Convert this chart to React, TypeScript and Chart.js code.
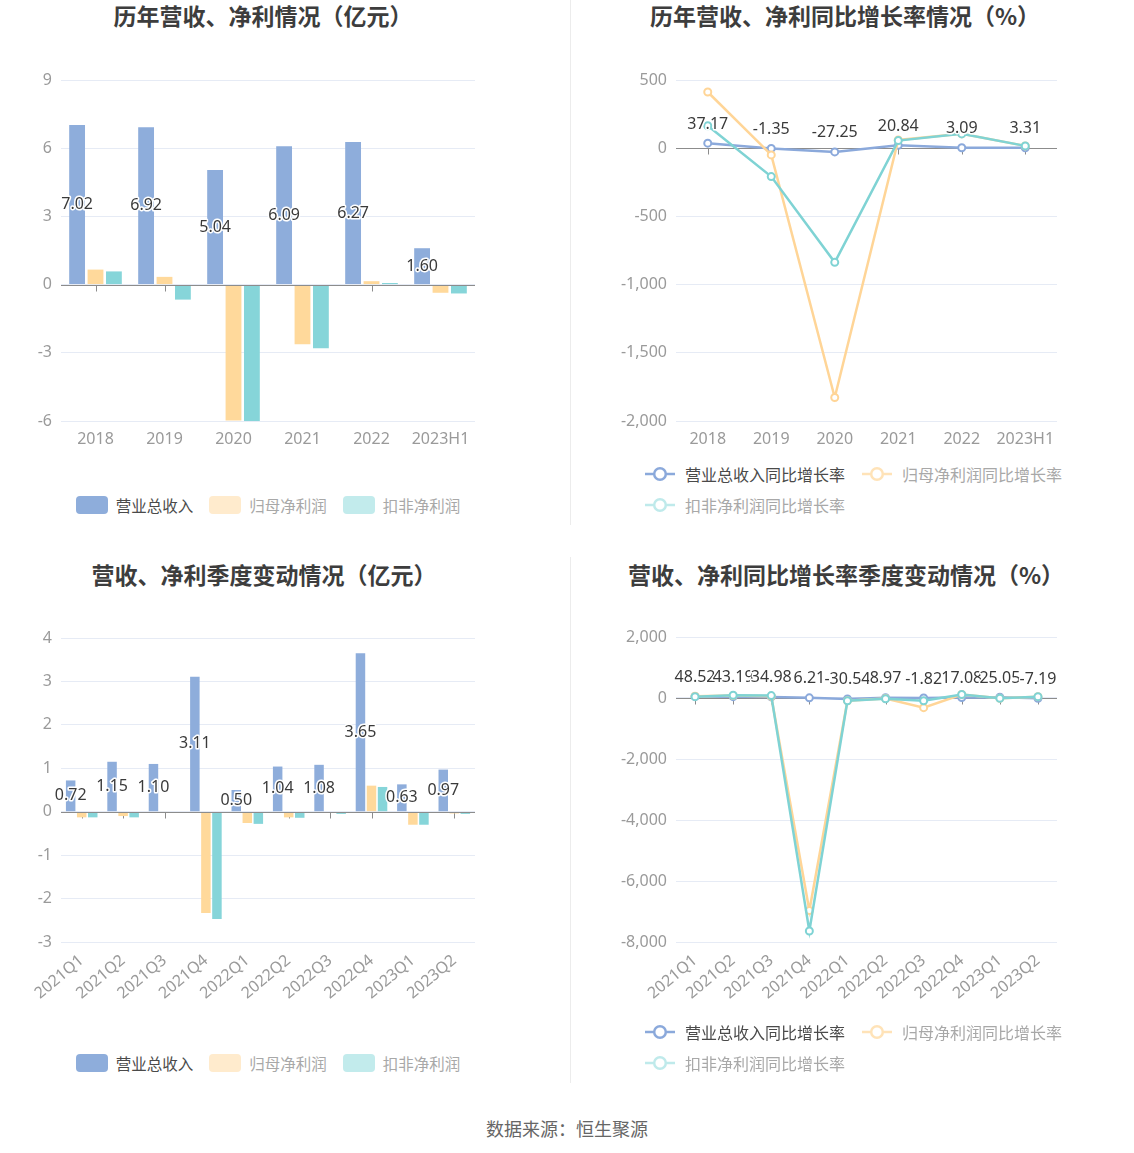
import React, { useEffect, useRef } from 'react';
import { Chart, registerables } from 'chart.js';

Chart.register(...registerables);

const NUM_FONT = '"Noto Sans", "Noto Sans CJK SC", sans-serif';
const CJK_FONT = '"Noto Sans CJK SC", "Noto Sans", sans-serif';

// ---------- data ----------
const years = ['2018', '2019', '2020', '2021', '2022', '2023H1'];
const yearRevenue = [7.02, 6.92, 5.04, 6.09, 6.27, 1.6];
const yearNetProfit = [0.66, 0.34, -5.98, -2.62, 0.15, -0.36];
const yearDeductedProfit = [0.58, -0.66, -6.0, -2.8, 0.07, -0.39];

const yearRevenueGrowth = [37.17, -1.35, -27.25, 20.84, 3.09, 3.31];
const yearNetProfitGrowth = [412, -49, -1828, 60, 106, 17];
const yearDeductedGrowth = [165, -208, -837, 56, 105, 17];

const quarters = ['2021Q1', '2021Q2', '2021Q3', '2021Q4', '2022Q1', '2022Q2', '2022Q3', '2022Q4', '2023Q1', '2023Q2'];
const qRevenue = [0.72, 1.15, 1.1, 3.11, 0.5, 1.04, 1.08, 3.65, 0.63, 0.97];
const qNetProfit = [-0.13, -0.1, 0.01, -2.33, -0.26, -0.13, -0.03, 0.6, -0.3, -0.04];
const qDeductedProfit = [-0.13, -0.13, -0.02, -2.47, -0.28, -0.14, -0.05, 0.57, -0.3, -0.05];

const qRevenueGrowth = [48.52, 43.19, 34.98, 6.21, -30.54, 8.97, -1.82, 17.08, 25.05, -7.19];
const qNetProfitGrowth = [60, 80, 57, -6970, -90, -20, -317, 113, -11, 45];
const qDeductedGrowth = [45, 90, 80, -7640, -90, -23, -90, 113, -11, 45];

const barNames = ['营业总收入', '归母净利润', '扣非净利润'];
const lineNames = ['营业总收入同比增长率', '归母净利润同比增长率', '扣非净利润同比增长率'];

// ---------- styles ----------
const BAR_COLORS = ['#8EADDB', '#FFD99B', '#86D5D9'];
const LINE_COLORS = ['#8BA9DB', '#FFD597', '#7FD3D4'];
const BAR_LEGEND_COLORS = ['#8EADDB', '#FFEBCD', '#C2EBEC'];
const LINE_LEGEND_COLORS = ['#8BA9DB', '#FFE3B8', '#BFEAEB'];
const LEGEND_TEXT = ['#4a4a4a', '#a8a8a8', '#a8a8a8'];

type Box = {
  left: number; top: number; width: number; height: number;
  areaLeft: number; areaTop: number; areaRight: number; areaBottom: number;
};

const zeroAxisPlugin = {
  id: 'zeroAxis',
  beforeDatasetsDraw(chart: any) {
    const { ctx, scales, chartArea } = chart;
    const y0 = Math.round(scales.y.getPixelForValue(0)) + 0.5;
    ctx.save();
    ctx.strokeStyle = '#8c8c8c';
    ctx.lineWidth = 1;
    scales.x.ticks.forEach((_: any, i: number) => {
      const x = Math.round(scales.x.getPixelForTick(i)) + 0.5;
      ctx.beginPath();
      ctx.moveTo(x, y0);
      ctx.lineTo(x, y0 + 6);
      ctx.stroke();
    });
    if (chart.config.type === 'line') {
      ctx.beginPath();
      ctx.moveTo(chartArea.left, y0);
      ctx.lineTo(chartArea.right, y0);
      ctx.stroke();
    }
    ctx.restore();
  },
  afterDatasetsDraw(chart: any) {
    if (chart.config.type !== 'bar') return;
    const { ctx, scales, chartArea } = chart;
    const y0 = Math.round(scales.y.getPixelForValue(0)) + 0.5;
    ctx.save();
    ctx.strokeStyle = '#8c8c8c';
    ctx.lineWidth = 1;
    ctx.beginPath();
    ctx.moveTo(chartArea.left, y0);
    ctx.lineTo(chartArea.right, y0);
    ctx.stroke();
    ctx.restore();
  },
};

const valueLabelPlugin = {
  id: 'valueLabels',
  afterDraw(chart: any) {
    const { ctx } = chart;
    const meta = chart.getDatasetMeta(0);
    const data = chart.data.datasets[0].data as number[];
    ctx.save();
    ctx.font = `16px ${NUM_FONT}`;
    ctx.textAlign = 'center';
    ctx.textBaseline = 'middle';
    ctx.lineJoin = 'round';
    meta.data.forEach((el: any, i: number) => {
      const text = Number(data[i]).toFixed(2);
      const x = el.x;
      const y = chart.config.type === 'bar' ? (el.y + el.base) / 2 : el.y - 19;
      ctx.strokeStyle = '#ffffff';
      ctx.lineWidth = 3;
      ctx.strokeText(text, x, y);
      ctx.fillStyle = '#3a3a3a';
      ctx.fillText(text, x, y);
    });
    ctx.restore();
  },
};

function makeConfig(
  kind: 'bar' | 'line',
  labels: string[],
  series: number[][],
  names: string[],
  yMin: number,
  yMax: number,
  step: number,
  box: Box,
  rotate: boolean,
): any {
  const datasets = series.map((d, i) =>
    kind === 'bar'
      ? {
          label: names[i],
          data: d,
          backgroundColor: BAR_COLORS[i],
          categoryPercentage: 0.8,
          barPercentage: 0.86,
        }
      : {
          label: names[i],
          data: d,
          borderColor: LINE_COLORS[i],
          backgroundColor: '#ffffff',
          borderWidth: 2.5,
          pointRadius: 3.5,
          pointBorderWidth: 2,
          pointBackgroundColor: '#ffffff',
          pointBorderColor: LINE_COLORS[i],
          tension: 0,
          order: 2 - i,
        },
  );
  return {
    type: kind,
    data: { labels, datasets },
    plugins: [zeroAxisPlugin, valueLabelPlugin],
    options: {
      responsive: false,
      animation: false,
      devicePixelRatio: 1,
      layout: {
        padding: {
          top: box.areaTop - box.top,
          right: box.left + box.width - box.areaRight,
          left: 0,
          bottom: 0,
        },
      },
      plugins: {
        legend: { display: false },
        title: { display: false },
        tooltip: { enabled: false },
      },
      scales: {
        x: {
          offset: true,
          grid: { display: false, drawTicks: false },
          border: { display: false },
          ticks: {
            color: '#9a9a9a',
            font: { size: 16, family: NUM_FONT },
            padding: 9,
            autoSkip: false,
            maxRotation: rotate ? 40 : 0,
            minRotation: rotate ? 40 : 0,
          },
          afterFit: (s: any) => {
            s.height = box.top + box.height - box.areaBottom;
          },
        },
        y: {
          min: yMin,
          max: yMax,
          grid: { color: '#E6EBF5', drawTicks: false },
          border: { display: false },
          ticks: {
            stepSize: step,
            color: '#9a9a9a',
            font: { size: 16, family: NUM_FONT },
            padding: 9,
            callback: (v: any) => Number(v).toLocaleString('en-US'),
          },
          afterFit: (s: any) => {
            s.width = box.areaLeft - box.left;
          },
        },
      },
    },
  };
}

function ChartCanvas({ config, box }: { config: any; box: Box }) {
  const ref = useRef<HTMLCanvasElement>(null);
  useEffect(() => {
    const chart = new Chart(ref.current as HTMLCanvasElement, config);
    return () => chart.destroy();
  }, []);
  return (
    <canvas
      ref={ref}
      width={box.width}
      height={box.height}
      style={{ position: 'absolute', left: box.left, top: box.top, width: box.width, height: box.height }}
    />
  );
}

function Title({ text, cx, top }: { text: string; cx: number; top: number }) {
  return (
    <div
      style={{
        position: 'absolute',
        left: cx - 280,
        width: 560,
        top,
        textAlign: 'center',
        fontFamily: CJK_FONT,
        fontWeight: 700,
        fontSize: 23,
        lineHeight: '34px',
        color: '#3d3d3d',
        whiteSpace: 'nowrap',
      }}
    >
      {text}
    </div>
  );
}

function BarLegend({ left, width, cy }: { left: number; width: number; cy: number }) {
  return (
    <div
      style={{
        position: 'absolute',
        left,
        width,
        top: cy - 12,
        height: 24,
        display: 'flex',
        justifyContent: 'center',
        alignItems: 'center',
        fontFamily: CJK_FONT,
        fontSize: 15.5,
        whiteSpace: 'nowrap',
      }}
    >
      {barNames.map((n, i) => (
        <div key={n} style={{ display: 'flex', alignItems: 'center', marginRight: i < 2 ? 16 : 0 }}>
          <span
            style={{
              display: 'inline-block',
              width: 32,
              height: 18,
              borderRadius: 4,
              background: BAR_LEGEND_COLORS[i],
              marginRight: 8,
            }}
          />
          <span style={{ color: LEGEND_TEXT[i], lineHeight: '24px' }}>{n}</span>
        </div>
      ))}
    </div>
  );
}

function LineSymbol({ color }: { color: string }) {
  return (
    <svg width={30} height={16} style={{ marginRight: 10, display: 'block' }}>
      <line x1={0} y1={8} x2={30} y2={8} stroke={color} strokeWidth={2.5} />
      <circle cx={15} cy={8} r={5.8} fill="#ffffff" stroke={color} strokeWidth={2.5} />
    </svg>
  );
}

function LineLegend({ left, cy1, cy2 }: { left: number; cy1: number; cy2: number }) {
  const item = (i: number) => (
    <div style={{ display: 'flex', alignItems: 'center' }}>
      <LineSymbol color={LINE_LEGEND_COLORS[i]} />
      <span style={{ color: LEGEND_TEXT[i], lineHeight: '24px' }}>{lineNames[i]}</span>
    </div>
  );
  const rowStyle = (cy: number): React.CSSProperties => ({
    position: 'absolute',
    left,
    top: cy - 12,
    height: 24,
    display: 'flex',
    alignItems: 'center',
    fontFamily: CJK_FONT,
    fontSize: 16,
    whiteSpace: 'nowrap',
  });
  return (
    <>
      <div style={rowStyle(cy1)}>
        {item(0)}
        <div style={{ width: 17 }} />
        {item(1)}
      </div>
      <div style={rowStyle(cy2)}>{item(2)}</div>
    </>
  );
}

const boxTL: Box = { left: 0, top: 60, width: 490, height: 400, areaLeft: 61, areaTop: 80, areaRight: 475, areaBottom: 421 };
const boxTR: Box = { left: 570, top: 60, width: 500, height: 400, areaLeft: 676, areaTop: 80, areaRight: 1057, areaBottom: 421 };
const boxBL: Box = { left: 0, top: 610, width: 490, height: 420, areaLeft: 61, areaTop: 638, areaRight: 475, areaBottom: 942 };
const boxBR: Box = { left: 570, top: 610, width: 500, height: 420, areaLeft: 676, areaTop: 637, areaRight: 1057, areaBottom: 942 };

export default function App() {
  useEffect(() => {
    document.body.style.margin = '0';
  }, []);

  const cfgTL = makeConfig('bar', years, [yearRevenue, yearNetProfit, yearDeductedProfit], barNames, -6, 9, 3, boxTL, false);
  const cfgTR = makeConfig('line', years, [yearRevenueGrowth, yearNetProfitGrowth, yearDeductedGrowth], lineNames, -2000, 500, 500, boxTR, false);
  const cfgBL = makeConfig('bar', quarters, [qRevenue, qNetProfit, qDeductedProfit], barNames, -3, 4, 1, boxBL, true);
  const cfgBR = makeConfig('line', quarters, [qRevenueGrowth, qNetProfitGrowth, qDeductedGrowth], lineNames, -8000, 2000, 2000, boxBR, true);

  return (
    <div style={{ position: 'relative', width: 1134, height: 1153, background: '#ffffff', overflow: 'hidden' }}>
      <div style={{ position: 'absolute', left: 570, top: 0, width: 1, height: 525, background: '#ececec' }} />
      <div style={{ position: 'absolute', left: 570, top: 557, width: 1, height: 526, background: '#ececec' }} />

      <Title text="历年营收、净利情况（亿元）" cx={263} top={-2} />
      <Title text="历年营收、净利同比增长率情况（%）" cx={845} top={-2} />
      <Title text="营收、净利季度变动情况（亿元）" cx={264} top={557} />
      <Title text="营收、净利同比增长率季度变动情况（%）" cx={846} top={557} />

      <ChartCanvas config={cfgTL} box={boxTL} />
      <ChartCanvas config={cfgTR} box={boxTR} />
      <ChartCanvas config={cfgBL} box={boxBL} />
      <ChartCanvas config={cfgBR} box={boxBR} />

      <BarLegend left={61} width={414} cy={505} />
      <LineLegend left={645} cy1={474} cy2={505} />
      <BarLegend left={61} width={414} cy={1063} />
      <LineLegend left={645} cy1={1032} cy2={1063} />

      <div
        style={{
          position: 'absolute',
          left: 0,
          width: 1134,
          top: 1115,
          textAlign: 'center',
          fontFamily: CJK_FONT,
          fontSize: 18,
          lineHeight: '26px',
          color: '#666666',
        }}
      >
        数据来源：恒生聚源
      </div>
    </div>
  );
}
